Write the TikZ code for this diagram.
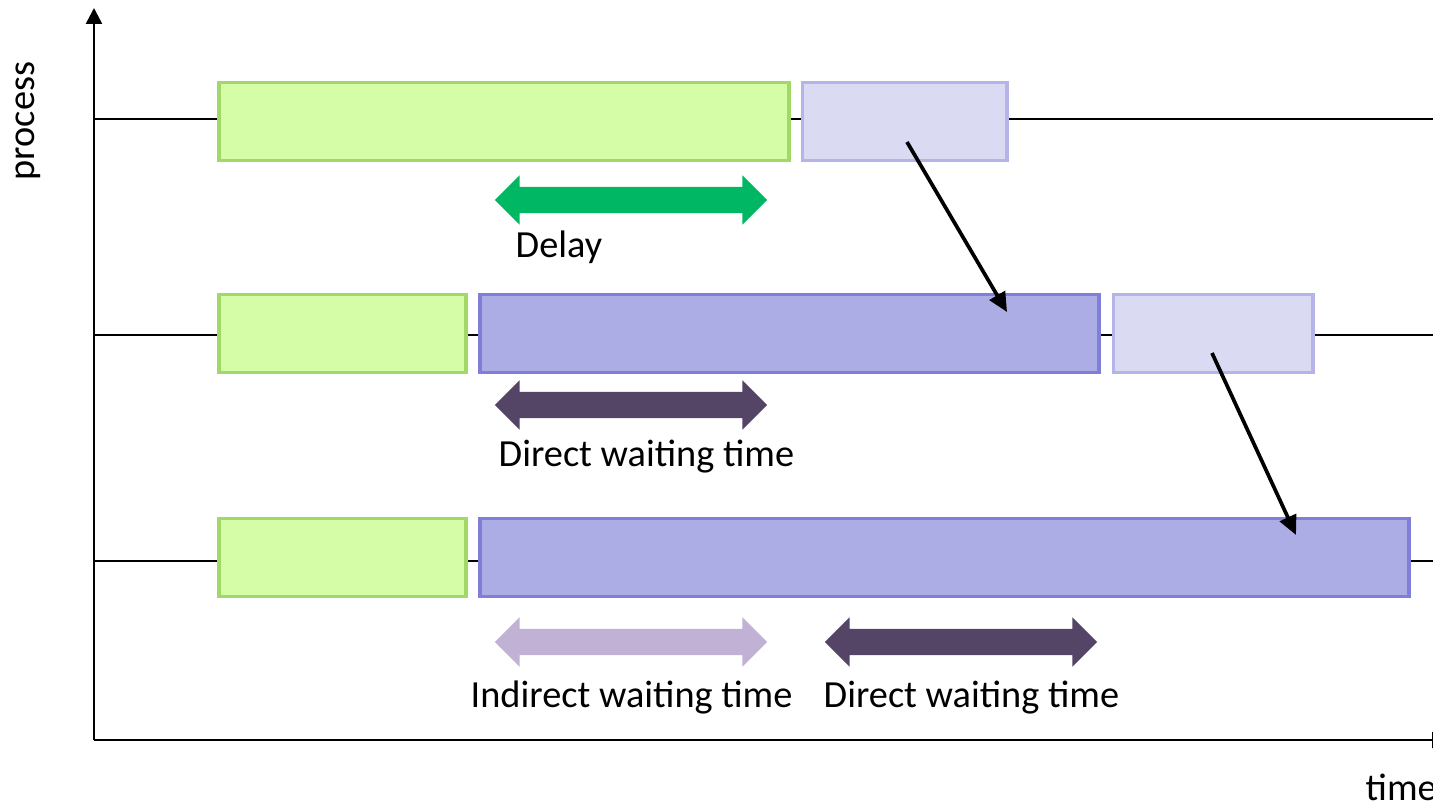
\documentclass[tikz,border=0pt]{standalone}
\usepackage{fontspec}
\setmainfont{Carlito}
\usetikzlibrary{positioning, shapes.arrows, arrows.meta}

\definecolor{readyFill}{HTML}{D5FCA6}
\definecolor{readyLine}{HTML}{A2D867}
\definecolor{busyFill}{HTML}{ADADE5}
\definecolor{busyLine}{HTML}{7F7FD9}
\definecolor{idleFill}{HTML}{DADAF2}
\definecolor{idleLine}{HTML}{B4B4E9}
\definecolor{delayCol}{HTML}{00B863}
\definecolor{waitCol}{HTML}{544566}
\definecolor{indirCol}{HTML}{C1B1D4}

\begin{document}
\begin{tikzpicture}[x=0.01cm, y=-0.01cm,
    font=\fontsize{10.9}{12}\selectfont,
    bar/.style={draw, line width=1.1pt, minimum height=0.78cm, inner sep=0pt},
    ready/.style={bar, fill=readyFill, draw=readyLine},
    busy/.style={bar, fill=busyFill, draw=busyLine},
    idle/.style={bar, fill=idleFill, draw=idleLine},
    span/.style={double arrow, double arrow head extend=0.115cm,
      minimum width=0.48cm, minimum height=2.72cm, inner sep=0.125cm},
    lbl/.style={anchor=base west, inner sep=0pt},
    axis/.style={line width=0.7pt, -{Triangle[length=4.5pt, width=4.5pt]}},
    timeline/.style={line width=0.55pt},
    dep/.style={line width=1.05pt, -{Triangle[length=5.5pt, width=5pt]}}]
  \useasboundingbox (0,0) rectangle (1433,806);
  \clip (0,0) rectangle (1433,806);

  % axes
  \coordinate (origin) at (94,740);
  \draw[axis] (origin) -- (94,8);
  \draw[axis] (origin) -- (1448,740);
  \node[rotate=90] (procLbl) at (28,121) {process};
  \node[lbl] (timeLbl) at (1365,800) {time};

  % process lines
  \draw[timeline] (94,119) -- (1433,119);
  \draw[timeline] (94,335) -- (1433,335);
  \draw[timeline] (94,561) -- (1433,561);

  \node[ready, minimum width=5.69cm] (g1) at (504,121.5) {};
  \node[idle, minimum width=2.04cm] (p1) at (904.5,121.5) {};

  \node[ready, minimum width=2.46cm] (g2) at (342.5,333.5) {};
  \node[busy, minimum width=6.18cm] (b2) at (789.5,333.5) {};
  \node[idle, minimum width=1.99cm] (p2) at (1213,333.5) {};

  \node[ready, minimum width=2.46cm] (g3) at (342.5,557.5) {};
  \node[busy, minimum width=9.28cm] (b3) at (944.5,557.5) {};

  % spans
  \node[span, fill=delayCol] (delay) at (631,200) {};
  \node[lbl] (delayLbl) at (515,257) {Delay};

  \node[span, fill=waitCol] (wait2) at (631,405) {};
  \node[lbl] (wait2Lbl) at (498,466) {Direct waiting time};

  \node[span, fill=indirCol] (indir3) at (631,642) {};
  \node[span, fill=waitCol] (wait3) at (961,642) {};
  \node[lbl] (indir3Lbl) at (470,707) {Indirect waiting time};
  \node[lbl] (wait3Lbl) at (823,707) {Direct waiting time};

  % dependencies
  \coordinate (d1s) at (907,142);
  \coordinate (d1e) at (1007,312);
  \coordinate (d2s) at (1212,353);
  \coordinate (d2e) at (1296,535);
  \draw[dep] (d1s) -- (d1e);
  \draw[dep] (d2s) -- (d2e);
\end{tikzpicture}
\end{document}
